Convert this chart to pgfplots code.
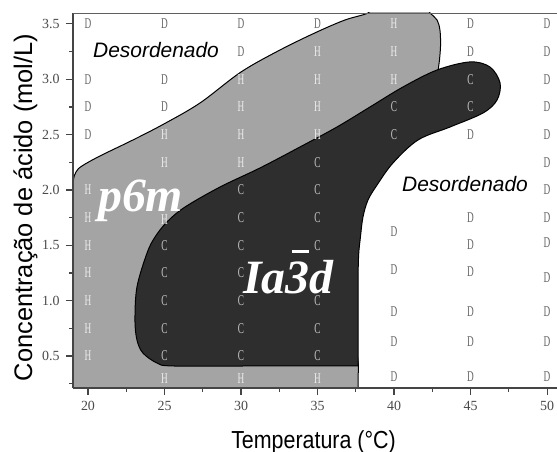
\documentclass[border=0pt]{standalone}
\usepackage{fontspec}
\usepackage{pgfplots}
\pgfplotsset{compat=1.18}
\usepackage{pgfplotstable}
\setmainfont{Liberation Serif}
\newfontfamily\sansfont{Liberation Sans}
\newfontfamily\seriffont{Liberation Serif}

\definecolor{hexgray}{HTML}{A4A4A4}
\definecolor{cubgray}{HTML}{2E2E2E}
\definecolor{dmark}{HTML}{666666}
\definecolor{hmark}{HTML}{EDEDED}
\definecolor{cmark}{HTML}{C4C4C4}
\definecolor{axisgray}{HTML}{454545}
\definecolor{ticklab}{HTML}{4A4A4A}

% Observed phase at each (temperature, acid concentration) point
\pgfplotstableread{
x y
20 3.50
20 3.00
20 2.75
20 2.50
25 3.50
25 3.00
25 2.75
30 3.50
30 3.25
35 3.50
45 3.50
45 3.25
45 2.50
40 1.62
40 1.28
40 0.90
40 0.63
40 0.31
45 1.75
45 1.51
45 1.26
45 0.90
45 0.63
45 0.31
50 3.50
50 3.25
50 3.00
50 2.75
50 2.50
50 2.25
50 2.00
50 1.75
50 1.52
50 1.21
50 0.90
50 0.63
50 0.31
}\disorderedpts

\pgfplotstableread{
x y
20 2.00
20 1.75
20 1.50
20 1.25
20 1.00
20 0.75
20 0.50
25 2.50
25 2.25
25 1.73
25 0.30
30 3.00
30 2.75
30 2.50
30 2.25
30 0.30
35 3.25
35 3.00
35 2.75
35 2.50
35 0.30
40 3.50
40 3.25
40 3.00
}\hexagonalpts

\pgfplotstableread{
x y
25 1.50
25 1.25
25 1.00
25 0.75
25 0.50
30 2.00
30 1.75
30 1.50
30 1.25
30 1.00
30 0.75
30 0.50
35 2.25
35 2.00
35 1.75
35 1.50
35 1.00
35 0.75
35 0.50
40 2.75
40 2.50
45 3.00
45 2.75
}\cubicpts

\pgfplotsset{
  phase letter/.style 2 args={draw=none, mark=none,
    nodes near coords={\scalebox{0.62}[1]{#1}},
    every node near coord/.style={anchor=center, inner sep=0pt,
      font=\seriffont\fontsize{15}{15}\selectfont, text=#2}},
}

\begin{document}
\begin{tikzpicture}
\useasboundingbox (0,0) rectangle (557bp,452bp);
\begin{axis}[
  name=ax,
  at={(73bp,64bp)}, anchor=south west,
  width=484bp, height=375bp, scale only axis,
  xmin=19.02, xmax=50.65, ymin=0.211, ymax=3.599,
  axis x line*=bottom, axis y line*=left,
  axis line style={axisgray, line width=1.1bp},
  axis on top,
  xtick={20,25,...,50},
  ytick={0.5,1.0,...,3.5},
  minor xtick={22.5,27.5,...,47.5},
  minor ytick={0.25,0.75,...,3.25},
  tick align=outside,
  major tick length=7bp, minor tick length=4bp,
  tick style={axisgray, line width=1.1bp},
  /pgf/number format/assume math mode=true,
  yticklabel style={/pgf/number format/fixed, /pgf/number format/fixed zerofill, /pgf/number format/precision=1, xshift=-3bp},
  xticklabel style={yshift=-3bp},
  tick label style={font=\seriffont\fontsize{14}{14}\selectfont, text=ticklab},
]
% hexagonal p6m domain
\addplot[fill=hexgray, draw=black, line width=1bp, smooth, tension=0.55] coordinates {
  (37.65,0.05) (37.65,0.3) (37.65,0.45) (37.3,0.8) (36.5,1.5) (37,2.2) (41,2.75)
  (42.75,2.98) (42.9,3.1) (42.97,3.174) (43.04,3.309) (43.0,3.445) (42.81,3.536)
  (42.35,3.599) (41.8,3.68) (39,3.68) (38.3,3.599) (36.8,3.536) (34.97,3.428)
  (32.55,3.265) (30.0,3.066) (27.32,2.786) (24.97,2.597) (22.94,2.452) (20.78,2.307)
  (19.61,2.217) (19.22,2.163) (19.02,2.063) (18.8,1.7) (18.6,1.0) (18.6,0.05) (37.65,0.05)
};
% cubic Ia-3d domain
\addplot[fill=cubgray, draw=black, line width=1bp, smooth, tension=0.55] coordinates {
  (37.65,0.41) (37.65,0.8) (37.65,1.2) (37.69,1.42) (37.8,1.57) (37.97,1.756)
  (38.3,1.91) (38.89,2.045) (39.93,2.244) (41.57,2.452) (43.66,2.569) (45.82,2.696)
  (46.73,2.813) (46.93,2.967) (46.27,3.111) (44.97,3.157) (42.81,3.084) (40.59,2.931)
  (38.43,2.75) (36.27,2.569) (33.86,2.389) (31.24,2.199) (28.63,2.027) (26.34,1.846)
  (25.16,1.711) (24.38,1.575) (23.86,1.431) (23.2,1.124) (23.07,0.825) (23.2,0.645)
  (23.59,0.527) (24.51,0.437) (25.56,0.41) (31,0.41) (37.65,0.41)
};
% sample points labelled by phase
\addplot[phase letter={D}{dmark}] table {\disorderedpts};
\addplot[phase letter={H}{hmark}] table {\hexagonalpts};
\addplot[phase letter={C}{cmark}] table {\cubicpts};
% phase names
\node[anchor=base west, inner sep=0pt, font=\sansfont\itshape\fontsize{21}{21}\selectfont] at (axis cs:20.33,3.20) {Desordenado};
\node[anchor=base west, inner sep=0pt, font=\sansfont\itshape\fontsize{21}{21}\selectfont] at (axis cs:40.52,1.99) {Desordenado};
\node[anchor=base west, inner sep=0pt, text=white, font=\seriffont\bfseries\itshape\fontsize{48}{48}\selectfont] at (axis cs:20.65,1.81) {p6m};
\node[anchor=base west, inner sep=0pt, text=white, font=\seriffont\bfseries\itshape\fontsize{48}{48}\selectfont] at (axis cs:30.13,1.069) {Ia\makebox[0pt][l]{\hspace{0.13em}\rule[0.84em]{0.36em}{0.07em}}3d};
\end{axis}
\draw[axisgray!85, line width=0.9bp] (ax.north west) -- (ax.north east);
\node[rotate=90, anchor=base, font=\sansfont\fontsize{25.5}{25.5}\selectfont] at (32bp,244.5bp) {Concentração de ácido (mol/L)};
\node[anchor=base, font=\sansfont\fontsize{21.5}{21.5}\selectfont] at (313.5bp,4bp) {\scalebox{1}[1.15]{Temperatura (°C)}};
\end{tikzpicture}
\end{document}
